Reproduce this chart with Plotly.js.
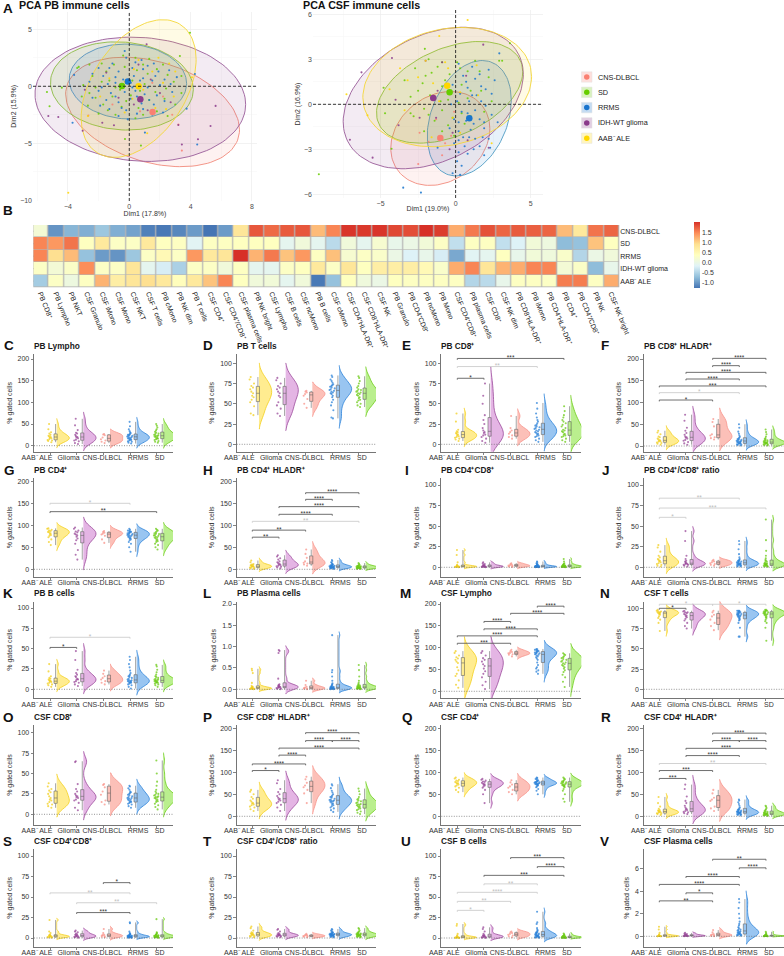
<!DOCTYPE html>
<html><head><meta charset="utf-8">
<script src="https://cdn.plot.ly/plotly-3.0.1.min.js"></script>
<style>html,body{margin:0;padding:0;background:#fff}</style></head>
<body><div id="chart" style="width:784px;height:956px"></div>
<script>
// ---------- categories ----------
const groups = ['AAB⁻ ALE','Glioma','CNS-DLBCL','RRMS','SD'];
const pcaGroups = ['CNS-DLBCL','SD','RRMS','IDH-WT glioma','AAB⁻ ALE'];
const heatRows = ['CNS-DLBCL','SD','RRMS','IDH-WT glioma','AAB⁻ ALE'];
const heatCols = ['PB CD8⁺','PB Lympho','PB NKT','CSF Granulo','CSF iMono','CSF Mono','CSF NKT','CSF T cells','PB cMono','PB NK dim','PB T cells','CSF CD4⁺','CSF CD4⁺/CD8⁺','CSF plasma cells','PB NK bright','CSF Lympho','CSF B cells','CSF ncMono','PB B cells','CSF cMono','CSF CD4⁺HLA-DR⁺','CSF CD8⁺HLA-DR⁺','CSF NK','PB Granulo','PB CD4⁺CD8⁺','PB ncMono','PB Mono','CSF CD4⁺CD8⁺','PB plasma cells','CSF CD8⁺','CSF NK dim','PB CD8⁺HLA-DR⁺','PB iMono','PB CD4⁺HLA-DR⁺','PB CD4⁺','PB CD4⁺/CD8⁺','PB NK','CSF NK bright'];
// ---------- heatmap ----------
const heatCns = [.15,-1.05,-.8,-.85,-.65,-.85,-.95,-1.2,-1.25,-1.15,-1,-1.28,-1,.8,1.77,1.66,1.75,1.77,1.15,1.5,1.97,1.95,1.97,1.86,1.83,2,1.92,1.25,1.57,1.8,1.69,1.75,1.72,1.69,1.15,.75,1.6,1.69];
const heatSd = [1.5,1.38,1.6,.35,.75,.3,.3,.75,.35,.33,-.15,.33,.33,.35,.35,.35,-.1,.1,-.1,-.45,.1,-.1,.2,-.05,0,.12,.3,-.4,.33,.33,-.4,-.2,.12,.05,-.75,-.7,1.1,.35];
const heatRrms = [1.5,.9,1.15,-.7,-1,-1.05,-.65,.3,.47,.3,1.38,.75,.8,2,1.2,1.57,1.1,1.38,.33,1.12,.2,.3,.25,0,-.2,-.05,-.25,-.9,-.15,-.1,.35,-.05,.12,.08,.25,-.5,0,.1];
const heatIdh = [.3,.15,.28,1.45,.3,.3,.8,-.1,-.25,-.55,.3,.3,.1,.33,-.1,-.1,.3,.35,.75,.3,.8,.35,.66,.66,.66,.47,.25,1.25,1.5,.8,1.2,1.25,1.5,1.5,.15,.28,-.75,-.05];
const heatAab = [-.6,.3,.05,.33,1.2,.66,.8,.9,.75,.4,.75,1.1,1.5,.35,.1,.12,-.1,.1,-1.25,-.7,.35,.08,0,.35,.33,.33,.33,.33,-.5,-.45,-.05,.33,.33,.3,1.55,1.55,.33,1.25];
const dendroCols = [[1,2,.1],[0,1.5,.22],[5,6,.1],[4,5.5,.16],[3,4.75,.22],[8,9,.1],[7,8.5,.16],[10,11,.1],[10.5,12,.16],[7.75,11.25,.24],[3.9,9.5,.34],[.75,6.7,.42],[14,15,.1],[16,17,.1],[14.5,16.5,.18],[13,15.5,.25],[18,19,.12],[20,21,.08],[20.5,22,.12],[23,24,.08],[25,26,.08],[23.5,25.5,.14],[20.9,24.5,.2],[18.5,22.7,.26],[14.25,20.6,.34],[28,29,.08],[27,28.5,.12],[30,31,.08],[32,33,.08],[30.5,32.5,.14],[27.75,31.5,.2],[34,35,.1],[36,37,.12],[34.5,36.5,.36],[29.6,35.5,.44],[17.4,32.6,.42],[3.7,25,.5]];
const dendroRows = [[3,4,.2,0,0],[2,3.5,.3,0,.2],[1,2.75,.42,0,.3],[0,1.87,.65,0,.42]];
// ---------- PCA ----------
const pbEllipses = [[1.52,-2.25,5.67,4.8,-19],[-.48,.03,4.66,3.87,-4.5],[-.09,.41,3.83,3.29,-3],[.72,-1.14,6.87,5.45,-4.7],[.61,-.2,3.75,6.04,25]];
const csfEllipses = [[-1.02,-2.28,3.3,3.13,12],[-.4,.8,4.87,3.39,24],[.91,-.93,2.8,3.85,18],[-1.49,.42,6,4.72,19.5],[-.56,1.15,5.62,3.98,10]];
const pbCentroids = [[1.52,-2.25],[-.48,.03],[-.09,.41],[.72,-1.14],[.61,0]];
const csfCentroids = [[-1.02,-2.24],[-.4,.8],[.91,-.93],[-1.49,.42],[-.56,1.24]];
const pbCnsPts = [[3.43,-5.64],[3.2,-3.36],[-2.67,-2.57],[2.2,-.9],[.7,-2.2],[1.5,.3],[-1.1,-1.6],[2.8,-2.5]];
const pbSdPts = [[3.96,4.7],[-5.37,-.5],[-5.2,-1.75],[-4.4,-.12],[.76,-5.2],[-.28,-4.62],[3.3,2.66],[-3.4,1.6],[-3.3,1.7],[-2.6,1.9],[-1.8,2],[-.4,2.7],[.4,2.5],[1.3,2.4],[2.2,1.9],[3.4,.9],[-2.4,.9],[-1.5,1.3],[-.3,1.7],[.5,1.4],[1.2,1.1],[2.5,1],[-3,.1],[-2.2,-.1],[-1.3,.5],[-.6,-.3],[.2,.5],[1,.2],[2.4,-.2],[3.4,-.6],[-3.1,-.9],[-2.2,-1],[-1.1,-.9],[.1,-.8],[1.3,-1.2],[2.3,-1.1],[3,-1.6],[-2.7,-1.7],[-1.7,-1.6],[-.5,-1.8],[.6,-1.9],[1.8,-2.2],[-2,-2.4],[-.9,-2.5],[.4,-2.8],[2.5,-2.6],[-1,1.9],[.9,1.9],[1.8,1.5],[-.9,-.1],[.7,-.4],[1.7,-.5],[-1.8,.4],[-.2,-1.3],[.9,-2.5],[-1.4,-2.1],[2.9,.4],[-2.6,-.6]];
const pbRrmsPts = [[-3.7,-3.2],[4.43,-5.1],[3.74,-1.96],[1.02,-4.06],[4.28,1.08],[-.2,2.5],[-.3,3.1],[.8,2.3],[1.6,2],[-1.1,2],[-2,1.6],[-.7,1.3],[.2,1.6],[.9,1.5],[1.9,1.3],[2.6,1.4],[-1.7,.9],[-.9,.8],[-.4,.6],[.3,.9],[.9,.7],[1.5,.5],[2.3,.6],[3.1,.8],[-2.6,.4],[-1.4,.2],[-.6,.1],[.1,.3],[.6,.1],[1.2,-.1],[2,.1],[-2,-.4],[-1.2,-.6],[-.3,-.5],[.4,-.4],[1,-.7],[1.8,-.8],[2.8,-.5],[-1.5,-1.2],[-.7,-1.4],[.1,-1.1],[.8,-1.5],[1.6,-1.6],[-1.3,-2],[-.2,-2.1],[.5,-2.4],[2.2,-2.3],[-3.6,1],[-.1,-2.9],[-2.4,1.1],[-1.3,1.6],[.4,2.1],[1.2,1.8],[-.9,.3],[.2,-.1],[.7,.5],[1.7,.9],[2.7,.2],[-1.8,-.1],[-2.4,-1],[-.9,-.9],[.5,-.9],[1.3,-1.2],[2.3,-1.3],[-.5,-1.9],[.9,-2],[1.5,-2.5],[-1.9,-1.7],[-.7,-2.6]];
const pbIdhPts = [[-5.28,-2.6],[-4.63,-2.7],[5.63,-1.72],[5.3,-3.48],[4.48,-4.65],[3.43,-5.1],[-1.76,-3.2],[-1,-3.42],[-3.04,-3.9],[1.13,3.68],[-1.5,1.2],[.6,1.9],[1.4,.6],[2,-.6],[-.7,-1],[.3,-1.6],[1.2,-2.1],[2.7,-1.4],[-2.9,-.3],[3.2,-3.4]];
const pbAabPts = [[-3.98,-9.33],[4.09,.79],[1.17,-4.12],[.6,2.3],[1.9,2.5],[2.6,2],[3,1.3],[.3,1.5],[1.5,1.3],[-1.3,.7],[-.3,.4],[.9,-.3],[2.2,.3],[2.9,-.9],[-1.9,-.9],[.2,-1.1],[1.7,-1.9],[-.3,-2.3],[2.4,-2],[-2.7,-2.6]];
const csfCnsPts = [[-2.49,-3.98],[-.9,-3.4],[-2.4,-1.9],[-.3,-2.1],[-1.3,-1],[-1.8,-2.5],[-.1,-.5],[-.7,-2.6]];
const csfSdPts = [[-9.11,-4.67],[3.62,4.07],[-4.27,-2.96],[-2.05,3.7],[-1.8,3],[-.9,2.8],[.1,2.8],[1.3,2.9],[2.9,2.9],[3.1,2.9],[-2.7,2.4],[-1.6,2.1],[-.4,2],[.8,2.2],[2.2,1.8],[-4.8,1.1],[-3.4,1.6],[-2.2,1.4],[-.9,1.2],[.4,1.3],[1.7,.9],[-3,.5],[-1.7,.6],[-.5,.3],[.8,.4],[2.4,.2],[-4.7,-.6],[-3,-.6],[-2.1,-.3],[-.9,-.4],[.4,-.6],[1.9,-.5],[-2.8,-.8],[-1.4,-1.1],[-.2,-.9],[1,-.8],[-.9,-1.8],[-2.1,-1.8],[-.1,-2.1],[-1.2,2.5],[.3,2.4],[1.6,2.2],[-2,1.9],[-.7,1.6],[1,.9],[-2.5,.9],[-1,.2],[.2,.1],[-1.8,-.7],[.6,-1.3],[-.5,-1.4]];
const csfRrmsPts = [[-3.49,-5.56],[-2.31,-5.89],[2.91,3.4],[.2,2.7],[1.1,2.5],[2.2,2.3],[.5,1.9],[1.3,1.7],[2.6,1.6],[-.2,1.3],[.8,1.1],[1.7,1.2],[.3,.7],[1.4,.6],[2.4,.7],[.9,.2],[2,-.1],[-.3,0],[.4,-.5],[1.3,-.4],[2.4,-.7],[-.1,-1],[.7,-1.1],[1.6,-1],[2.8,-1.2],[-.4,-1.6],[.2,-1.8],[1,-1.7],[1.9,-1.6],[.5,-2.2],[1.3,-2.3],[2.2,-2.3],[-.1,-2.6],[.6,-2.8],[1.6,-2.8],[2.3,-2.9],[-1.2,-2.9],[.2,-3.2],[.8,-3.3],[1.9,-3.4],[.1,-3.8],[.4,-4.1],[-.2,-4.6],[.3,-4.7],[1.6,2],[.7,1.5],[2,1],[1.1,.6],[.1,.2],[1.7,.2],[.8,-.6],[1.9,-1.2],[.2,-1.2],[1.2,-1.3],[.9,-2.2],[1.8,-2.2],[.2,-2.4],[1.2,-3]];
const csfIdhPts = [[1.84,3.98],[-4.24,3.09],[-6.27,2.13],[-7.04,-2.36],[-5.53,-3.56],[-4,.3],[-3.8,-1.4],[-2.4,-.9],[-.9,2.8],[-2,2.9],[-1.3,-.9],[-.2,-1.9],[.8,-2.4],[2.2,-2.9],[-1.2,.9],[.7,1.9],[-.4,-3]];
const csfAabPts = [[.8,5.62],[-1.09,4.56],[-7.27,.67],[-5.87,-.73],[-3.7,2.4],[-2.5,1.8],[-3.2,1.6],[-4.4,1],[-1.5,1.4],[-.5,2.4],[1.4,2.6],[.3,.8],[-1.1,.2],[1.5,.6],[-3.4,-.4],[-.2,-.9],[-1.6,-2.2],[.3,-1.9],[2.4,-2.6],[-2,2.9],[-.7,2.8]];
// ---------- panel samples: AAB-, Glioma, CNS-DLBCL, RRMS, SD ----------
const pbLympho=[[8,11,12,13,15,17,18,20,21,23,25,28,31,38,50],[4,6,10,12,14,17,19,20,22,25,28,30,36,47,62],[6,9,12,15,19,24,26,27],[5,7,9,10,12,13,14,15,16,17,18,19,20,21,22,23,24,25,26,27,29,31,34,38,45,55],[7,9,11,13,15,16,17,18,20,21,22,23,24,25,27,28,30,32,35,38,42,46,50]];
const pbT=[[36,38,47,52,55,58,60,63,65,68,70,72,75,80,83],[35,38,44,48,52,58,60,63,65,68,70,72,75,79,82],[45,50,56,60,62,64,65,66],[32,33,42,48,52,55,58,60,62,63,64,65,66,67,68,69,70,71,72,73,74,76,78,80,83,85],[46,48,50,52,54,55,57,58,60,61,62,63,64,65,66,67,68,70,72,75,78,82,84]];
const pbCd8=[[4,6,7,8,9,10,11,12,13,14,15,16,18,28,38],[2,4,7,9,11,12,14,15,17,20,25,30,36,50,60,75],[7,9,11,13,15,17,20,35],[3,5,7,9,10,11,12,13,14,15,16,17,18,19,20,21,22,23,24,26,28,30,33,38,44,51],[3,5,7,9,10,11,12,13,15,16,17,18,20,22,24,26,28,30,33,36,41,47]];
const pbCd8Hla=[[3,5,7,8,10,11,12,13,15,17,20,22,27,31,35],[3,6,9,12,14,17,19,20,22,26,30,35,42,58,72],[15,18,20,24,27,45,55,62],[1,2,3,4,5,6,6,7,8,9,10,10,11,12,13,14,15,16,17,19,21,24,28,33,42,50],[1,2,3,4,5,5,6,7,7,8,8,9,10,11,12,13,14,16,18,22,27,32,38]];
const pbCd4=[[55,62,68,73,76,78,80,82,84,85,87,88,90,92,93],[22,33,44,58,66,70,74,77,79,81,84,86,88,92,95],[60,68,76,79,81,83,85,87],[40,50,58,62,66,68,70,71,72,74,75,76,77,78,79,80,81,82,83,84,85,86,87,88,90,92],[45,50,55,58,62,64,66,68,70,72,73,74,76,77,78,80,81,82,84,86,88,90,92]];
const pbCd4Hla=[[1,2,3,4,5,6,7,7,8,9,10,11,12,16,20],[2,4,6,7,8,10,11,12,14,16,18,22,25,29,32],[8,11,13,15,18,26,35,45],[1,2,2,3,3,4,4,4,5,5,6,6,6,7,7,8,8,9,9,10,11,12,14,16,19,21],[1,1,2,2,3,3,3,4,4,4,5,5,5,6,6,7,7,8,8,9,10,12,14]];
const pbDp=[[.2,.4,.5,.7,.8,1,1,1.2,1.5,1.8,2,3,6,15,21],[.2,.3,.5,.6,.8,1,1.1,1.4,1.6,2,2.5,3,4,5,6],[.5,1,1.5,2,2.5,3,4,5],[.1,.2,.3,.4,.5,.5,.6,.7,.8,.9,1,1,1.1,1.2,1.4,1.5,1.7,1.9,2,2.5,3,3.5,4,5,6,7],[.1,.3,.4,.5,.6,.7,.8,.9,1,1,1.2,1.3,1.5,1.7,2,2.2,2.5,3,3.5,4,5,7,10]];
const pbRatio=[[1,2,3,4,5,6,7,8,9,10,12,14,19,24,27],[1,2,3,3,4,4,5,5,6,7,8,10,14,32,44],[2,3,4,5,6,7,8,9],[1,1,2,2,3,3,3,4,4,4,5,5,5,6,6,7,7,8,8,9,10,12,16,22,28,32],[1,1,1,2,2,2,3,3,3,4,4,4,5,5,6,7,8,9,11,14,20,33,58]];
const pbB=[[3,5,6,7,8,9,10,10,11,12,13,14,16,22,31],[4,6,8,9,10,12,12,13,15,16,18,20,24,36,47],[6,8,10,12,14,16,19,23],[1,3,5,6,7,8,8,9,9,10,10,11,11,12,13,14,15,16,17,18,20,23,27,31,36,40],[3,5,6,7,8,8,9,9,10,10,11,11,12,12,13,14,15,16,18,21,24,28,30]];
const pbPlasma=[[0,.01,.01,.01,.02,.02,.02,.02,.03,.03,.04,.05,.06,.08,.15,.38,.44,.48],[0,.01,.02,.03,.04,.05,.05,.06,.06,.08,.09,.1,.12,.25,.85,.9,.92],[0,.01,.02,.03,.04,.06,.1,.2],[0,0,.01,.01,.01,.02,.02,.02,.03,.03,.03,.04,.04,.05,.05,.06,.07,.08,.1,.12,.14,.2,.3,.4,.45,1.27],[0,.01,.01,.02,.02,.03,.03,.03,.04,.04,.05,.05,.06,.07,.08,.09,.1,.12,.15,.2,.3,.45,.57]];
const csfLympho=[[8,15,25,35,40,48,55,65,68,72,75,78,82,88,92],[5,14,22,32,40,46,52,58,62,68,72,76,82,88,92],[80,84,85,87,88,90,92,95],[40,45,48,52,55,60,66,72,75,78,80,82,84,85,86,87,88,89,90,91,92,93,94,95,96,97],[10,22,32,38,44,48,52,55,58,60,62,64,66,68,70,72,74,76,78,80,83,85,87]];
const csfT=[[72,82,86,88,90,92,93,94,94,95,95,96,96,97,98],[75,78,82,85,87,89,90,91,92,93,94,95,95,96,97],[73,78,82,86,90,92,95,97],[65,65,76,82,85,86,87,88,89,90,90,91,91,92,92,93,93,94,94,95,95,96,96,97,97,97],[60,76,82,84,86,88,89,90,91,92,92,93,93,94,94,95,95,96,96,97,97,98,98]];
const csfCd8=[[8,10,12,13,15,17,18,20,22,25,27,29,31,34,38],[5,8,14,17,18,20,21,22,23,25,28,31,37,64,65],[12,15,17,24,28,33,36,37],[8,10,12,13,14,15,15,16,17,18,18,19,20,20,21,22,23,24,25,26,27,28,30,32,34,35],[6,9,11,13,15,16,17,18,19,20,21,21,22,23,24,25,26,28,30,35,40,50,66]];
const csfCd8Hla=[[12,16,20,22,25,27,29,30,33,36,40,44,50,56,60],[12,20,26,30,33,36,38,40,42,46,50,55,62,75,82],[30,52,60,66,70,76,84,90],[10,14,18,20,23,25,27,29,31,33,34,35,36,37,38,40,42,44,45,47,50,54,58,64,70,73],[5,8,11,14,16,18,20,22,23,25,26,27,28,30,32,34,36,38,40,44,50,57,63]];
const csfCd4=[[55,60,65,68,70,72,74,75,76,78,80,81,83,86,88],[30,50,60,65,68,70,72,73,74,76,78,79,81,83,85],[50,55,60,65,68,72,77,82],[50,58,62,66,68,70,71,72,73,73,74,74,75,76,76,77,78,78,79,80,81,82,84,85,87,88],[33,40,50,58,62,66,68,69,70,71,72,73,74,75,76,77,78,79,80,82,84,86,88]];
const csfCd4Hla=[[3,5,6,7,8,9,10,11,12,13,14,17,22,30,44],[5,7,9,10,12,14,16,17,20,24,30,35,45,62,72],[12,18,22,35,38,42,52,60],[2,3,4,5,5,6,7,8,8,9,9,10,10,11,12,13,14,15,16,18,20,24,28,32,36,38],[1,2,2,3,3,4,4,5,5,6,6,7,7,8,9,10,11,12,14,16,19,22,24]];
const csfDp=[[.3,.6,1,1.3,1.6,1.9,2,2.3,2.6,3,3.5,4,6,8,22],[.4,.8,1,1.4,1.8,2.2,2.5,3,3.5,4,4.5,5.5,7,8,9],[1,1.5,2,3,3.5,4,6,11],[.2,.4,.6,.8,1,1.2,1.4,1.5,1.7,1.8,1.9,2,2.1,2.3,2.5,2.7,3,3.3,3.6,4,4.5,5,6,8,18,19],[.2,.5,.7,.9,1.1,1.3,1.5,1.7,1.9,2,2.2,2.4,2.6,2.8,3,3.3,3.7,4,4.5,5,6,7,23]];
const csfRatio=[[1,1.5,2,2.5,3,3.5,4,4.5,5,5.5,6,7,9,12,14],[1,1.5,2,2.3,2.7,3,3.5,3.8,4,4.5,5,6,8,10,11],[1,1.5,2,2.5,3,3.5,4,5],[.8,1.2,1.6,2,2.3,2.6,2.9,3.2,3.4,3.6,3.8,4,4.2,4.4,4.6,4.8,5,5.3,5.6,6,6.5,7,8,9,10,11],[.8,1.2,1.6,2,2.3,2.6,2.9,3.2,3.5,3.7,4,4.2,4.5,4.8,5,5.4,5.8,6.2,7,8,9,11,12]];
const csfB=[[.1,.2,.3,.4,.5,.7,.9,1,1.3,1.6,2,3,5,15,17],[.2,.4,.6,.9,1.2,1.6,2,2.3,2.7,3,3.5,5,8,11,13],[1,2,3,4,5,6,7,8],[.3,.5,.8,1,1.3,1.6,2,2.3,2.6,3,3.2,3.5,4,4.5,5,5.5,6,6.5,7,8,9,10,12,17,19,32],[.1,.2,.3,.3,.4,.5,.6,.7,.8,.9,1,1,1.2,1.4,1.6,1.8,2,2.3,2.6,3,3.5,4.5,5.5]];
const csfPlasma=[[0,0,.01,.01,.02,.02,.03,.04,.06,.08,.1,.15,.3,.6,.85],[0,.01,.02,.03,.04,.05,.06,.07,.08,.1,.12,.15,.2,.25,.3],[.01,.03,.08,.12,.16,.2,.35,.55],[.05,.08,.1,.12,.15,.18,.2,.25,.3,.3,.35,.4,.45,.5,.55,.6,.7,.8,.95,1.1,1.3,1.6,2,2.5,3,3.3],[0,.01,.01,.01,.02,.02,.02,.03,.03,.03,.04,.04,.05,.05,.06,.07,.08,.1,.12,.15,.2,.3,.4]];
// ---------- significance brackets: from, to, height, stars, strong(1)/faint(0) ----------
const sigE=[[1,5,106,'***',1],[1,4,96,'**',0],[1,2,81.5,'*',1]];
const sigF=[[3,5,201.5,'****',1],[3,4,184.7,'****',1],[2,5,169.3,'****',1],[2,4,154,'****',1],[1,5,138,'***',1],[1,4,122.6,'*',0],[1,3,105.7,'*',1]];
const sigG=[[1,4,150,'*',0],[1,5,131,'**',1]];
const sigH=[[3,5,174,'****',1],[3,4,159,'****',1],[2,5,142.4,'****',1],[2,4,125,'****',1],[1,5,109,'**',0],[1,3,89,'**',1],[1,2,73,'**',1]];
const sigJ=[[1,4,84,'**',0],[1,5,72,'***',0],[1,2,60.7,'*',0]];
const sigK=[[1,4,64,'*',0],[1,2,51.5,'*',1]];
const sigM=[[4,5,195,'****',1],[3,5,178.6,'****',1],[2,3,160,'****',1],[2,4,143,'****',1],[1,4,127,'****',1],[1,3,110,'***',1]];
const sigN=[[1,4,112.7,'*',0],[1,3,105,'*',0],[3,5,105,'*',0],[1,2,100,'*',1]];
const sigP=[[3,5,190,'****',1],[3,4,172,'****',1],[4,5,172,'****',1],[2,5,155,'****',1],[2,3,139,'****',1],[1,3,119,'****',1],[1,2,104,'*',1]];
const sigR=[[3,5,189,'****',1],[3,4,172,'****',1],[4,5,172,'****',1],[2,5,154.5,'****',1],[2,4,138,'****',1],[1,5,120,'**',0],[1,3,104,'***',1],[1,2,86,'***',1]];
const sigS=[[3,4,67.5,'*',1],[1,4,55,'**',0],[2,5,43,'**',0],[2,4,31,'***',1]];
const sigU=[[3,5,98,'***',1],[4,5,87,'****',1],[2,5,76.4,'***',1],[2,4,66,'**',0],[1,4,55.7,'****',0],[1,3,44.7,'**',0],[1,2,33.7,'*',0]];
const sigV=[[3,5,6.83,'**',1],[4,5,6.07,'****',1],[2,4,5.3,'****',1],[1,4,4.6,'****',1],[2,3,3.85,'*',1],[1,3,3.14,'**',1]];
// ---------- panels ----------
const panelTitles=['PB Lympho','PB T cells','PB CD8⁺','PB CD8⁺ HLADR⁺','PB CD4⁺','PB CD4⁺ HLADR⁺','PB CD4⁺CD8⁺','PB CD4⁺/CD8⁺ ratio','PB B cells','PB Plasma cells','CSF Lympho','CSF T cells','CSF CD8⁺','CSF CD8⁺ HLADR⁺','CSF CD4⁺','CSF CD4⁺ HLADR⁺','CSF CD4⁺CD8⁺','CSF CD4⁺/CD8⁺ ratio','CSF B cells','CSF Plasma cells'];
const panelData=[pbLympho,pbT,pbCd8,pbCd8Hla,pbCd4,pbCd4Hla,pbDp,pbRatio,pbB,pbPlasma,csfLympho,csfT,csfCd8,csfCd8Hla,csfCd4,csfCd4Hla,csfDp,csfRatio,csfB,csfPlasma];
const panelSig=[[],[],sigE,sigF,sigG,sigH,[],sigJ,sigK,[],sigM,sigN,[],sigP,[],sigR,sigS,[],sigU,sigV];
const t200=[0,50,100,150,200],t100=[0,25,50,75,100],t2=[0,.5,1,1.5,2],t6=[0,2,4,6];
const panelTicks=[t200,t100,t100,t200,t200,t200,t100,t100,t100,t2,t200,t100,t100,t200,t200,t200,t100,t100,t100,t6];
const panelLetters=['C','D','E','F','G','H','I','J','K','L','M','N','O','P','Q','R','S','T','U','V'];

// ---------- layout geometry (pixels) ----------
const W=784,H=956;
const px=x=>x/W, py=y=>1-y/H;
const colL=[34,236.7,441.3,643.7], colR=[173,376,581.3,784], colTick=[50,252.3,457.3,659.3];
const rowT=[354,478,601.5,725,849], rowB=[451.7,576.7,698.3,825,946.7];
const rowTitle=[346,470,593,717,841];
const zeroPx=[445.7,444.3,444.3,446, 569.3,569.3,567.3,567.3, 689.3,689.3,691.3,689.3, 814.3,816.3,816.3,816.3, 938,938,938,936.3];
const unitPx=[.4335,.81,.81,.435, .44,.44,.823,.823, .813,42.65,.4365,.81, .816,.44,.44,.44, .82,.82,.82,11.28];
const letterX=[[5,204,403,602],[5,204,406,603],[4,204,401,601],[4,204,403,602],[4,204,402,601]];
const colorsLine=['#F2CF1D','#9A4A9A','#F8938A','#2B82D8','#6CCB17'];
const colorsFill=['rgba(255,224,70,.6)','rgba(205,120,205,.55)','rgba(250,140,125,.55)','rgba(70,150,230,.55)','rgba(130,225,50,.55)'];
const pcaColors=['#FA8072','#66CD00','#1874CD','#8B3A8B','#FFD700'];
const pcaLine=['#F28A7C','#8CCB3C','#4E9CC4','#9A5C9A','#F4D73A'];
const rgba=(hex,a)=>`rgba(${parseInt(hex.slice(1,3),16)},${parseInt(hex.slice(3,5),16)},${parseInt(hex.slice(5,7),16)},${a})`;
const FONT='Liberation Sans, Arial, sans-serif';
const traces=[], annotations=[], shapes=[];
const layout={width:W,height:H,margin:{l:0,r:0,t:0,b:0},paper_bgcolor:'#fff',plot_bgcolor:'rgba(0,0,0,0)',showlegend:false,font:{family:FONT,size:7,color:'#4d4d4d'},violinmode:'overlay',boxmode:'overlay',violingap:0,boxgap:0};
const paperText=(x,y,text,size,opts={})=>annotations.push(Object.assign({xref:'paper',yref:'paper',x:px(x),y:py(y),text,showarrow:false,xanchor:'left',yanchor:'middle',font:{size,family:FONT,color:'#111'}},opts));

// ---------- PCA subplots ----------
function pca(idx,ell,cen,pts,box,ranges,ticks,xTitle,yTitle,minorX,minorY){
  const xa='xaxis'+(idx===1?'':idx), ya='yaxis'+(idx===1?'':idx), xr='x'+(idx===1?'':idx), yr='y'+(idx===1?'':idx);
  const grid={showgrid:true,gridcolor:'#ececec',gridwidth:.7,zeroline:false,showline:false,ticks:'',tickfont:{size:7,color:'#4d4d4d'}};
  layout[xa]=Object.assign({},grid,{domain:[px(box[0]),px(box[1])],anchor:yr,range:ranges[0],tickmode:'array',tickvals:ticks[0],title:{text:xTitle,font:{size:7,color:'#333'},standoff:0},minor:{tickmode:'array',tickvals:minorX,showgrid:true,gridcolor:'#f5f5f5',gridwidth:.5,ticks:''}});
  layout[ya]=Object.assign({},grid,{domain:[py(box[3]),py(box[2])],anchor:xr,range:ranges[1],tickmode:'array',tickvals:ticks[1],title:{text:yTitle,font:{size:7,color:'#333'},standoff:2},minor:{tickmode:'array',tickvals:minorY,showgrid:true,gridcolor:'#f5f5f5',gridwidth:.5,ticks:''}});
  ell.forEach((e,g)=>{
    const xs=[],ys=[];
    for(let a=0;a<=360;a+=3){const t=a*Math.PI/180;xs.push(e[0]+e[2]*Math.cos(t));ys.push(e[1]+e[3]*Math.sin(t+e[4]*Math.PI/180));}
    traces.push({type:'scatter',mode:'lines',x:xs,y:ys,xaxis:xr,yaxis:yr,fill:'toself',fillcolor:rgba(pcaColors[g],.1),line:{color:pcaLine[g],width:.9},hoverinfo:'skip'});
  });
  shapes.push({type:'line',xref:xr,yref:yr,x0:ranges[0][0],x1:ranges[0][1],y0:0,y1:0,line:{color:'#222',width:.9,dash:'3px,2px'}});
  shapes.push({type:'line',xref:xr,yref:yr,x0:0,x1:0,y0:ranges[1][0],y1:ranges[1][1],line:{color:'#222',width:.9,dash:'3px,2px'}});
  pts.forEach((p,g)=>traces.push({type:'scatter',mode:'markers',x:p.map(d=>d[0]),y:p.map(d=>d[1]),xaxis:xr,yaxis:yr,marker:{size:2.1,color:pcaColors[g],opacity:.85},hoverinfo:'skip',cliponaxis:false}));
  cen.forEach((c,g)=>traces.push({type:'scatter',mode:'markers',x:[c[0]],y:[c[1]],xaxis:xr,yaxis:yr,marker:{size:6.5,color:pcaColors[g]},hoverinfo:'skip'}));
}
pca(1,pbEllipses,pbCentroids,[pbCnsPts,pbSdPts,pbRrmsPts,pbIdhPts,pbAabPts],[33,257,11.7,201],[[-6.28,8.33],[-10.06,6.54]],[[-4,0,4,8],[-10,-5,0,5]],'Dim1 (17.8%)','Dim2 (15.9%)',[-6,-2,2,6],[-7.5,-2.5,2.5]);
pca(2,csfEllipses,csfCentroids,[csfCnsPts,csfSdPts,csfRrmsPts,csfIdhPts,csfAabPts],[313,543,10,198],[[-9.5,5.82],[-6.25,6.29]],[[-5,0,5],[-6,-3,0,3,6]],'Dim1 (19.0%)','Dim2 (16.9%)',[-7.5,-2.5,2.5],[-4.5,-1.5,1.5,4.5]);

// ---------- Heatmap ----------
layout.xaxis3={domain:[px(33.3),px(619.3)],anchor:'y3',range:[-.5,37.5],tickmode:'array',tickvals:heatCols.map((c,i)=>i),ticktext:heatCols,tickangle:68,ticks:'',showgrid:false,zeroline:false,showline:false,tickfont:{size:7,color:'#222'}};
layout.yaxis3={domain:[py(287.3),py(225)],anchor:'x3',side:'right',range:[4.5,-.5],tickmode:'array',tickvals:[0,1,2,3,4],ticktext:heatRows,ticks:'',showgrid:false,zeroline:false,showline:false,tickfont:{size:7,color:'#222'}};
shapes.push({type:'rect',xref:'paper',yref:'paper',x0:px(33.3),x1:px(619.3),y0:py(287.3),y1:py(225),fillcolor:'#b5b5b5',line:{width:0},layer:'below'});
traces.push({type:'heatmap',x:heatCols.map((c,i)=>i),y:[0,1,2,3,4],z:[heatCns,heatSd,heatRrms,heatIdh,heatAab],xaxis:'x3',yaxis:'y3',xgap:1.2,ygap:.6,zmin:-1.28,zmax:2,hoverinfo:'skip',
 colorscale:[[0,'#4575B4'],[1/6,'#91BFDB'],[2/6,'#E0F3F8'],[3/6,'#FFFFBF'],[4/6,'#FEE090'],[5/6,'#FC8D59'],[1,'#D73027']],
 colorbar:{x:px(693.7),xanchor:'left',xpad:0,ypad:0,y:py(255.5),yanchor:'middle',lenmode:'pixels',len:65.6,thicknessmode:'pixels',thickness:5.5,outlinewidth:0,ticks:'',tickmode:'array',tickvals:[-1,-.5,0,.5,1,1.5],ticktext:['-1.0','-0.5','0.0','0.5','1.0','1.5'],tickfont:{size:7,color:'#333'}}});
(()=>{const x=[],y=[];
 dendroCols.forEach(d=>{const top=-.5-d[2],leg=Math.min(-.5,top+.09);x.push(d[0],d[0],d[1],d[1],null);y.push(leg,top,top,leg,null);});
 traces.push({type:'scatter',mode:'lines',x,y,xaxis:'x3',yaxis:'y3',line:{color:'#8a8a8a',width:.6},cliponaxis:false,hoverinfo:'skip'});
 const rx=[],ry=[];
 dendroRows.forEach(d=>{rx.push(-.5-d[3],-.5-d[2],-.5-d[2],-.5-d[4],null);ry.push(d[0],d[0],d[1],d[1],null);});
 traces.push({type:'scatter',mode:'lines',x:rx,y:ry,xaxis:'x3',yaxis:'y3',line:{color:'#666',width:.7},cliponaxis:false,hoverinfo:'skip'});
})();

// ---------- Raincloud panels ----------
const labelOffset=[-13/26.67,-8/26.67,-1/26.67,8/26.67,3/26.67];
panelData.forEach((data,p)=>{
  const n=p+4, xr='x'+n, yr='y'+n, r=Math.floor(p/4), c=p%4;
  const L=colL[c],R=colR[c],T=rowT[r],B=rowB[r],sc=unitPx[p],z0=zeroPx[p];
  const sp=26.67, tick=colTick[c];
  layout['xaxis'+n]={domain:[px(L),px(R)],anchor:yr,type:'linear',range:[1+(L-tick)/sp,1+(R-tick)/sp],showgrid:false,zeroline:false,showline:true,linecolor:'#666',linewidth:.9,
    tickmode:'array',tickvals:groups.map((g,i)=>i+1+labelOffset[i]),ticktext:groups,ticks:'',tickangle:0,ticklabelstandoff:-1,tickfont:{size:7,color:'#333'},
    minor:{tickmode:'array',tickvals:[1,2,3,4,5],ticks:'outside',ticklen:2,tickwidth:.8,tickcolor:'#666',showgrid:false}};
  layout['yaxis'+n]={domain:[py(B),py(T)],anchor:xr,type:'linear',range:[(z0-B)/sc,(z0-T)/sc],showgrid:false,zeroline:false,showline:true,linecolor:'#666',linewidth:.9,
    tickmode:'array',tickvals:panelTicks[p],tickformat:panelTicks[p]===t2?'.1f':'',ticks:'outside',ticklen:2.5,tickwidth:.8,tickcolor:'#666',tickfont:{size:7,color:'#333'},
    title:{text:'% gated cells',font:{size:7,color:'#333'},standoff:4}};
  shapes.push({type:'line',xref:xr+' domain',yref:yr,x0:0,x1:1,y0:0,y1:0,line:{color:'#666',width:.7,dash:'1px,1.5px'}});
  data.forEach((vals,g)=>{
    traces.push({type:'violin',y:vals,x0:g+1.25,xaxis:xr,yaxis:yr,side:'positive',width:.95,scalemode:'width',fillcolor:colorsFill[g],line:{color:colorsLine[g],width:.8},
      points:'all',pointpos:-.53,jitter:.22,marker:{size:2.1,color:colorsLine[g],opacity:.75},box:{visible:false},meanline:{visible:false},hoverinfo:'skip',hoveron:'violins'});
    traces.push({type:'box',y:vals,x0:g+1.21,xaxis:xr,yaxis:yr,width:.12,boxpoints:false,whiskerwidth:0,fillcolor:colorsFill[g],line:{color:'#666',width:.6},hoverinfo:'skip'});
  });
  const sig=panelSig[p];
  [[1,'#5f5f5f'],[0,'#cdcdcd']].forEach(([strong,col])=>{
    const s=sig.filter(d=>d[4]===strong); if(!s.length)return;
    const x=[],y=[]; const drop=1.4/sc;
    s.forEach(d=>{x.push(d[0],d[0],d[1],d[1],null);y.push(d[2]-drop,d[2],d[2],d[2]-drop,null);});
    traces.push({type:'scatter',mode:'lines',x,y,xaxis:xr,yaxis:yr,line:{color:col,width:.9},cliponaxis:false,hoverinfo:'skip'});
    traces.push({type:'scatter',mode:'text',x:s.map(d=>(d[0]+d[1])/2),y:s.map(d=>d[2]),text:s.map(d=>d[3]),textposition:'middle center',textfont:{size:6.5,color:strong?'#333':'#bdbdbd',family:FONT},xaxis:xr,yaxis:yr,cliponaxis:false,hoverinfo:'skip'});
  });
  paperText(L-2,rowTitle[r],'<b>'+panelTitles[p]+'</b>',8.3,{font:{size:8.3,family:FONT,color:'#1a1a1a'}});
  paperText(letterX[r][c]-3,rowTitle[r],'<b>'+panelLetters[p]+'</b>',13.5);
});

// ---------- Headings and key ----------
paperText(1,8.5,'<b>A</b>',13.5);
paperText(1,211,'<b>B</b>',13.5);
paperText(17,5,'<b>PCA PB immune cells</b>',10.7,{font:{size:10.7,family:FONT,color:'#111'}});
paperText(300.5,5,'<b>PCA CSF immune cells</b>',10.7,{font:{size:10.7,family:FONT,color:'#111'}});
pcaGroups.forEach((g,i)=>{
  const y=77+i*15.3;
  shapes.push({type:'rect',xref:'paper',yref:'paper',x0:px(581.5),x1:px(592),y0:py(y+5.2),y1:py(y-5.2),fillcolor:rgba(pcaColors[i],.25),line:{color:'#e2e2e2',width:.5}});
  shapes.push({type:'circle',xref:'paper',yref:'paper',x0:px(584),x1:px(589.5),y0:py(y+2.75),y1:py(y-2.75),fillcolor:pcaColors[i],line:{width:0}});
  paperText(596,y,g,7.3,{font:{size:7.3,family:FONT,color:'#222'}});
});
layout.annotations=annotations; layout.shapes=shapes;
Plotly.newPlot('chart',traces,layout,{staticPlot:true,displayModeBar:false});
</script></body></html>
